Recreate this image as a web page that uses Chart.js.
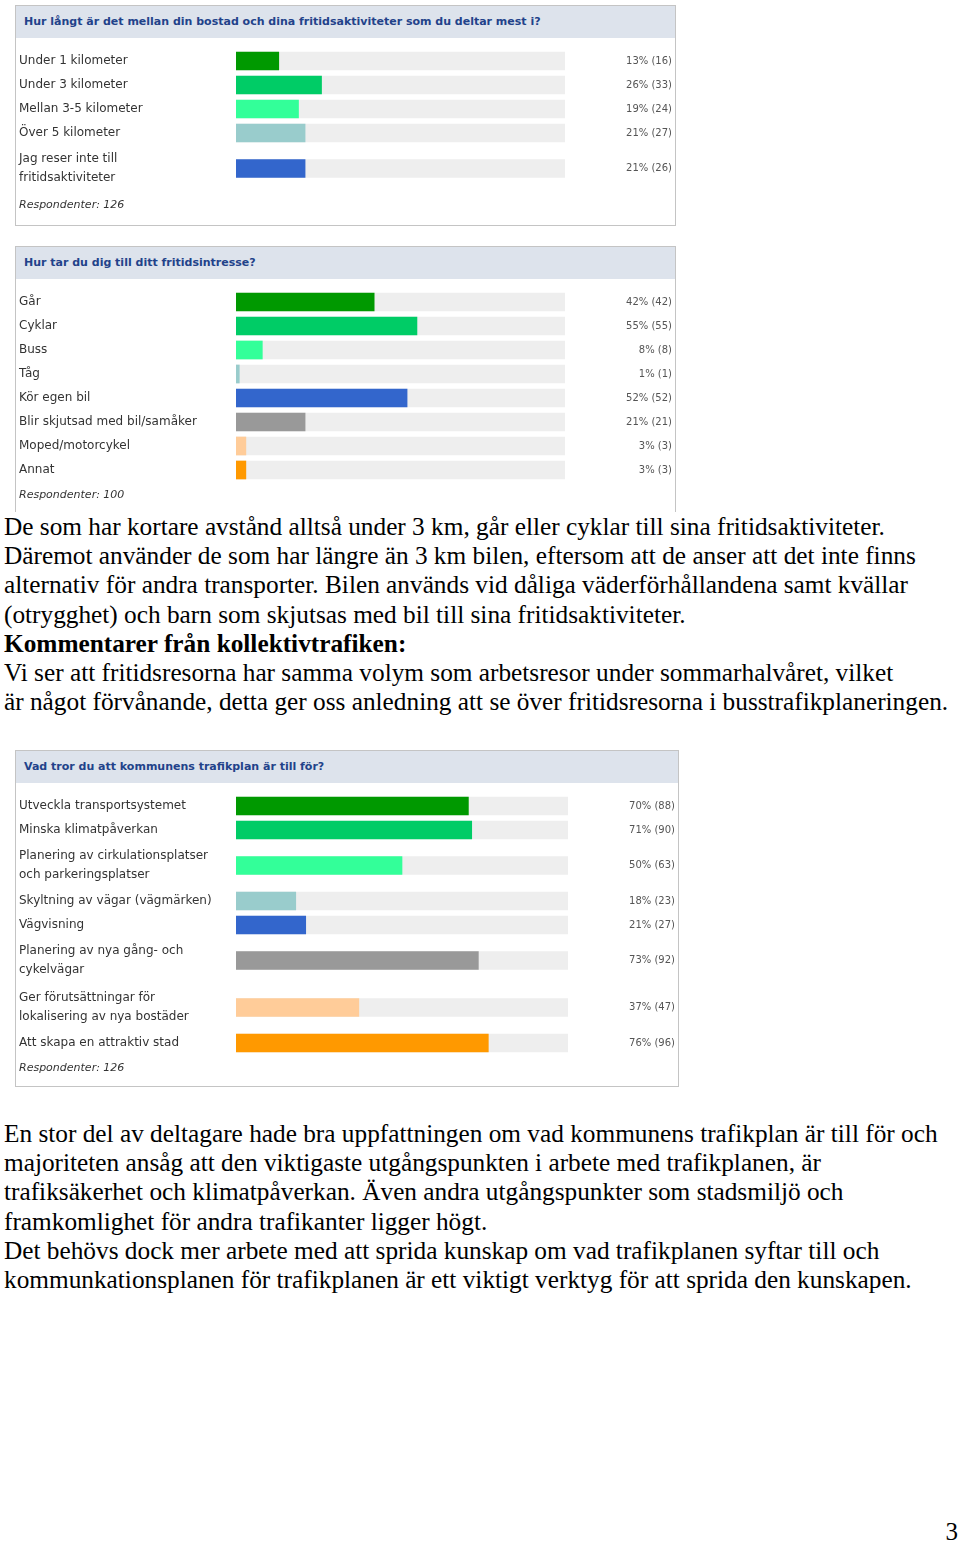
<!DOCTYPE html>
<html lang="sv">
<head>
<meta charset="utf-8">
<script src="https://cdn.jsdelivr.net/npm/chart.js@4.4.1/dist/chart.umd.min.js"></script>
<style>
  body { margin: 0; background: #fff; width: 960px; height: 1543px; position: relative; overflow: hidden; }
  .box { position: absolute; left: 15px; box-sizing: border-box; border: 1px solid #c4c4c4; background: #fff; }
  .head { height: 32px; background: #dde3ec; font: bold 11px "DejaVu Sans", sans-serif; color: #22428a; line-height: 32px; padding-left: 8px; white-space: nowrap; }
  .box canvas { display: block; }
  .txt { position: absolute; left: 4px; font-family: "Liberation Serif", "Times New Roman", serif; font-size: 25.3px; line-height: 29.2px; color: #000; white-space: nowrap; }
  .pageno { position: absolute; right: 2px; top: 1518px; font-family: "Liberation Serif", serif; font-size: 25px; }
</style>
</head>
<body>

<div class="box" id="box1" style="top:5px;width:661px;height:221px;">
  <div class="head" id="title1"></div>
  <canvas id="chart1" width="659" height="187"></canvas>
</div>

<div class="box" id="box2" style="top:246px;width:661px;height:266px;border-bottom:none;">
  <div class="head" id="title2"></div>
  <canvas id="chart2" width="659" height="233"></canvas>
</div>

<div class="txt" style="top:512px;">
  De som har kortare avstånd alltså under 3 km, går eller cyklar till sina fritidsaktiviteter.<br>
  Däremot använder de som har längre än 3 km bilen, eftersom att de anser att det inte finns<br>
  alternativ för andra transporter. Bilen används vid dåliga väderförhållandena samt kvällar<br>
  (otrygghet) och barn som skjutsas med bil till sina fritidsaktiviteter.<br>
  <b>Kommentarer från kollektivtrafiken:</b><br>
  Vi ser att fritidsresorna har samma volym som arbetsresor under sommarhalvåret, vilket<br>
  är något förvånande, detta ger oss anledning att se över fritidsresorna i busstrafikplaneringen.
</div>

<div class="box" id="box3" style="top:750px;width:664px;height:337px;">
  <div class="head" id="title3"></div>
  <canvas id="chart3" width="662" height="303"></canvas>
</div>

<div class="txt" style="top:1119px;">
  En stor del av deltagare hade bra uppfattningen om vad kommunens trafikplan är till för och<br>
  majoriteten ansåg att den viktigaste utgångspunkten i arbete med trafikplanen, är<br>
  trafiksäkerhet och klimatpåverkan. Även andra utgångspunkter som stadsmiljö och<br>
  framkomlighet för andra trafikanter ligger högt.<br>
  Det behövs dock mer arbete med att sprida kunskap om vad trafikplanen syftar till och<br>
  kommunkationsplanen för trafikplanen är ett viktigt verktyg för att sprida den kunskapen.
</div>

<div class="pageno">3</div>

<script>
// Färger för svarsalternativen, i ordning
const palette = ['#009900', '#00cc66', '#33ff99', '#99cccc', '#3366cc', '#999999', '#ffcc99', '#ff9900'];

// 1. Avstånd till fritidsaktiviteter
const distTitle = 'Hur långt är det mellan din bostad och dina fritidsaktiviteter som du deltar mest i?';
const distLabels = [
  ['Under 1 kilometer'],
  ['Under 3 kilometer'],
  ['Mellan 3-5 kilometer'],
  ['Över 5 kilometer'],
  ['Jag reser inte till', 'fritidsaktiviteter']
];
const distPercent = [13, 26, 19, 21, 21];
const distCount = [16, 33, 24, 27, 26];
const distRespondents = 126;

// 2. Färdsätt till fritidsintresset
const modeTitle = 'Hur tar du dig till ditt fritidsintresse?';
const modeLabels = [
  ['Går'],
  ['Cyklar'],
  ['Buss'],
  ['Tåg'],
  ['Kör egen bil'],
  ['Blir skjutsad med bil/samåker'],
  ['Moped/motorcykel'],
  ['Annat']
];
const modePercent = [42, 55, 8, 1, 52, 21, 3, 3];
const modeCount = [42, 55, 8, 1, 52, 21, 3, 3];
const modeRespondents = 100;

// 3. Trafikplanens syfte
const planTitle = 'Vad tror du att kommunens trafikplan är till för?';
const planLabels = [
  ['Utveckla transportsystemet'],
  ['Minska klimatpåverkan'],
  ['Planering av cirkulationsplatser', 'och parkeringsplatser'],
  ['Skyltning av vägar (vägmärken)'],
  ['Vägvisning'],
  ['Planering av nya gång- och', 'cykelvägar'],
  ['Ger förutsättningar för', 'lokalisering av nya bostäder'],
  ['Att skapa en attraktiv stad']
];
const planPercent = [70, 71, 50, 18, 21, 73, 37, 76];
const planCount = [88, 90, 63, 23, 27, 92, 47, 96];
const planRespondents = 126;

// Radhöjd beror på antal textrader i etiketten
function rowLayout(labels) {
  let y = 11;
  const centers = [];
  labels.forEach(l => {
    const h = l.length > 1 ? 47 : 24;
    centers.push(y + h / 2);
    y += h;
  });
  return { centers, end: y };
}

const textPlugin = {
  id: 'surveyText',
  afterDatasetsDraw(chart, args, opts) {
    const ctx = chart.ctx;
    const meta = chart.getDatasetMeta(0);
    ctx.save();
    ctx.textBaseline = 'middle';
    meta.data.forEach((bar, i) => {
      const lines = opts.labels[i];
      ctx.fillStyle = '#333';
      ctx.textAlign = 'left';
      ctx.font = '12px "DejaVu Sans", sans-serif';
      const step = 19.5;
      lines.forEach((line, j) => {
        const y = bar.y + (j - (lines.length - 1) / 2) * step;
        ctx.fillText(line, 3, y);
      });
      ctx.fillStyle = '#555';
      ctx.textAlign = 'right';
      ctx.font = '10px "DejaVu Sans", sans-serif';
      ctx.fillText(opts.percent[i] + '% (' + opts.count[i] + ')', chart.width - 3, bar.y);
    });
    ctx.fillStyle = '#333';
    ctx.textAlign = 'left';
    ctx.font = 'italic 11px "DejaVu Sans", sans-serif';
    ctx.fillText('Respondenter: ' + opts.respondents, 3, chart.scales.y.getPixelForValue(opts.end + 13));
    ctx.restore();
  }
};

function createSurveyChart(canvasId, titleId, title, labels, percent, count, respondents) {
  document.getElementById(titleId).textContent = title;
  const canvas = document.getElementById(canvasId);
  const layout = rowLayout(labels);

  return new Chart(canvas.getContext('2d'), {
    type: 'bar',
    data: {
      datasets: [
        {
          data: percent.map((p, i) => ({ x: p, y: layout.centers[i] })),
          backgroundColor: palette.slice(0, percent.length),
          barThickness: 18,
          grouped: false,
          order: 0
        },
        {
          data: percent.map((p, i) => ({ x: 100, y: layout.centers[i] })),
          backgroundColor: '#eeeeee',
          barThickness: 18,
          grouped: false,
          order: 1
        }
      ]
    },
    options: {
      indexAxis: 'y',
      responsive: false,
      animation: false,
      layout: { padding: { left: 220, right: 110, top: 0, bottom: 0 } },
      scales: {
        x: { type: 'linear', min: 0, max: 100, display: false },
        y: { type: 'linear', min: 0, max: canvas.height, reverse: true, offset: false, display: false }
      },
      plugins: {
        legend: { display: false },
        tooltip: { enabled: false },
        surveyText: { labels, percent, count, respondents, end: layout.end }
      }
    },
    plugins: [textPlugin]
  });
}

createSurveyChart('chart1', 'title1', distTitle, distLabels, distPercent, distCount, distRespondents);
createSurveyChart('chart2', 'title2', modeTitle, modeLabels, modePercent, modeCount, modeRespondents);
createSurveyChart('chart3', 'title3', planTitle, planLabels, planPercent, planCount, planRespondents);
</script>
</body>
</html>
